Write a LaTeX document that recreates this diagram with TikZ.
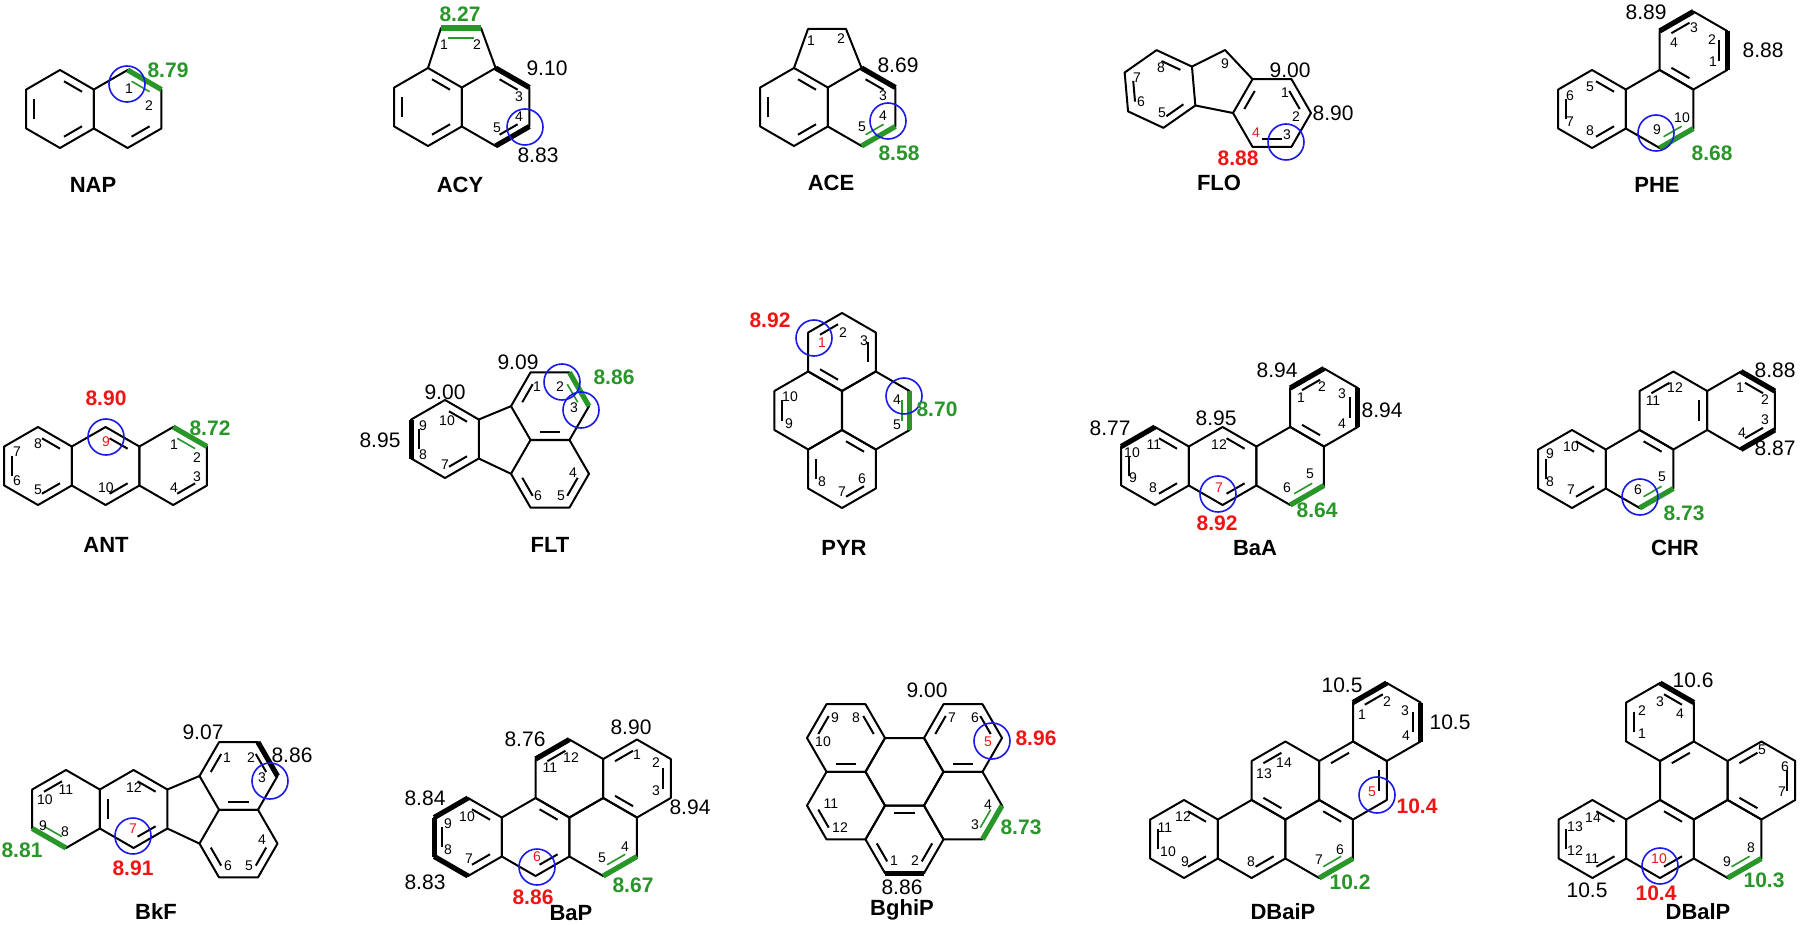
\documentclass[tikz,border=0pt]{standalone}
\usepackage{fontspec}
\setmainfont{Liberation Sans}
\usetikzlibrary{positioning}
\definecolor{grn}{RGB}{40,150,40}
\definecolor{rd}{RGB}{240,20,20}
\definecolor{blu}{RGB}{25,25,235}
\newcounter{lbl}
% ring: name, cx, cy, rotation (0 = pointy top, 30 = flat top)
\newcommand\hexring[4]{%
  \foreach \k in {0,...,5}{%
    \coordinate (#1-\k) at ({#2+39*cos(#4+30+60*\k)},{#3+39*sin(#4+30+60*\k)});
    \coordinate (#1-i\k) at ({#2+30*cos(#4+30+60*\k)},{#3+30*sin(#4+30+60*\k)});
  }
  \draw[bond] (#1-0) -- (#1-1) -- (#1-2) -- (#1-3) -- (#1-4) -- (#1-5) -- cycle;}
% inner line of a double bond
\newcommand\dbl[3][bond]{\pgfmathtruncatemacro\nk{mod(#3+1,6)}%
  \draw[#1,shorten <=2.3pt,shorten >=2.3pt] (#2-i#3) -- (#2-i\nk);}
% heavy outer bond
\newcommand\bnd[3][hbond]{\pgfmathtruncatemacro\nk{mod(#3+1,6)}%
  \draw[#1] (#2-#3) -- (#2-\nk);}
\newcommand\lbl[4]{\stepcounter{lbl}\node[#1] (t\arabic{lbl}) at (#2,#3) {#4};}
\newcommand\site[2]{\stepcounter{lbl}\node[site] (s\arabic{lbl}) at (#1,#2) {};}

\begin{document}
\begin{tikzpicture}[x=0.5pt,y=-0.5pt,
    bond/.style={line width=1pt,line join=round},
    hbond/.style={line width=2.6pt},
    gbond/.style={line width=2.6pt,draw=grn},
    gin/.style={line width=0.8pt,draw=grn},
    site/.style={draw=blu,line width=0.8pt,circle,minimum size=18pt,inner sep=0pt},
    num/.style={font=\fontsize{7}{8}\selectfont,inner sep=0pt},
    rnum/.style={num,text=rd},
    val/.style={font=\fontsize{10.5}{12}\selectfont,inner sep=0pt},
    gval/.style={font=\fontsize{10.5}{12}\selectfont\bfseries,text=grn,inner sep=0pt},
    rval/.style={font=\fontsize{10.5}{12}\selectfont\bfseries,text=rd,inner sep=0pt},
    mol/.style={font=\fontsize{11}{13}\selectfont\bfseries,inner sep=0pt}]
\useasboundingbox[fill=white] (0,0) rectangle (1800,925);

% NAP
\hexring{nA}{60}{109}{0}
\hexring{nB}{127.6}{109}{0}
\dbl{nA}{0} \dbl{nA}{2} \dbl{nA}{4} \dbl{nB}{0}
\bnd[gbond]{nB}{4} \dbl[gin]{nB}{4}
\site{127}{84}
\lbl{num}{129}{89}{1} \lbl{num}{149}{106}{2}
\lbl{gval}{168}{70}{8.79} \lbl{mol}{93}{185}{NAP}

% ACY
\hexring{yA}{428}{107}{0}
\hexring{yB}{495.6}{107}{0}
\dbl{yA}{0} \dbl{yA}{2} \dbl{yA}{4} \dbl{yB}{0} \dbl{yB}{4}
\bnd{yB}{4} \bnd{yB}{0}
\coordinate (y1) at (441,28);
\coordinate (y2) at (481,28);
\draw[bond] (yA-4) -- (y1) -- (y2) -- (yB-4);
\draw[gbond] (y1) -- (y2);
\draw[gin] (448,38) -- (474,38);
\site{525}{127}
\lbl{gval}{460}{14}{8.27} \lbl{num}{444}{45}{1} \lbl{num}{477}{45}{2}
\lbl{val}{547}{68}{9.10} \lbl{num}{519}{97}{3} \lbl{num}{519}{117}{4}
\lbl{num}{497}{128}{5} \lbl{val}{538}{155}{8.83} \lbl{mol}{460}{185}{ACY}

% ACE
\hexring{eA}{794}{107}{0}
\hexring{eB}{861.6}{107}{0}
\dbl{eA}{0} \dbl{eA}{2} \dbl{eA}{4} \dbl{eB}{4}
\bnd{eB}{4} \bnd[gbond]{eB}{0} \dbl[gin]{eB}{0}
\coordinate (e1) at (808,29);
\coordinate (e2) at (846,29);
\draw[bond] (eA-4) -- (e1) -- (e2) -- (eB-4);
\site{888}{121}
\lbl{num}{811}{41}{1} \lbl{num}{841}{39}{2} \lbl{val}{898}{65}{8.69}
\lbl{num}{883}{96}{3} \lbl{num}{883}{116}{4} \lbl{num}{862}{127}{5}
\lbl{gval}{899}{153}{8.58} \lbl{mol}{831}{183}{ACE}

% FLO
\hexring{fA}{1160}{89}{-5}
\hexring{fB}{1272}{113}{30}
\coordinate (f9) at (1225,50);
\draw[bond] (fA-5) -- (f9) -- (fB-3);
\draw[bond] (fA-0) -- (fB-2);
\dbl{fA}{0} \dbl{fA}{2} \dbl{fA}{4} \dbl{fB}{0} \dbl{fB}{2} \dbl{fB}{4}
\site{1286}{142}
\lbl{num}{1161}{68}{8} \lbl{num}{1137}{78}{7} \lbl{num}{1141}{102}{6}
\lbl{num}{1162}{113}{5} \lbl{num}{1225}{64}{9} \lbl{val}{1290}{70}{9.00}
\lbl{num}{1285}{93}{1} \lbl{num}{1296}{117}{2} \lbl{val}{1333}{113}{8.90}
\lbl{rnum}{1256}{133}{4} \lbl{num}{1287}{135}{3}
\lbl{rval}{1238}{158}{8.88} \lbl{mol}{1219}{183}{FLO}

% PHE
\hexring{pL}{1592}{109}{0}
\hexring{pM}{1659.6}{109}{0}
\hexring{pT}{1693.4}{50.5}{0}
\dbl{pL}{0} \dbl{pL}{2} \dbl{pL}{4} \dbl{pT}{1} \dbl{pT}{3} \dbl{pT}{5}
\bnd{pT}{3} \bnd{pT}{5} \bnd[gbond]{pM}{0} \dbl[gin]{pM}{0}
\site{1656}{133}
\lbl{val}{1646}{12}{8.89} \lbl{num}{1694}{28}{3} \lbl{num}{1674}{43}{4}
\lbl{num}{1712}{40}{2} \lbl{num}{1713}{62}{1} \lbl{val}{1763}{50}{8.88}
\lbl{num}{1590}{87}{5} \lbl{num}{1570}{96}{6} \lbl{num}{1570}{122}{7}
\lbl{num}{1590}{131}{8} \lbl{num}{1657}{130}{9} \lbl{num}{1682}{118}{10}
\lbl{gval}{1712}{153}{8.68} \lbl{mol}{1657}{185}{PHE}

% ANT
\hexring{aA}{38}{466}{0}
\hexring{aB}{105.6}{466}{0}
\hexring{aC}{173.2}{466}{0}
\dbl{aA}{0} \dbl{aA}{2} \dbl{aA}{4} \dbl{aB}{0} \dbl{aB}{4} \dbl{aC}{0}
\bnd[gbond]{aC}{4} \dbl[gin]{aC}{4}
\site{106}{437}
\lbl{rval}{106}{398}{8.90} \lbl{rnum}{106}{442}{9} \lbl{gval}{210}{428}{8.72}
\lbl{num}{174}{445}{1} \lbl{num}{197}{458}{2} \lbl{num}{197}{477}{3}
\lbl{num}{174}{488}{4} \lbl{num}{106}{488}{10} \lbl{num}{38}{444}{8}
\lbl{num}{17}{452}{7} \lbl{num}{17}{481}{6} \lbl{num}{38}{490}{5}
\lbl{mol}{106}{545}{ANT}

% FLT
\hexring{tA}{445}{439}{0}
\hexring{tU}{550}{406.2}{30}
\hexring{tD}{550}{473.8}{30}
\draw[bond] (tA-5) -- (tU-2);
\draw[bond] (tA-0) -- (tD-2);
\dbl{tA}{0} \dbl{tA}{2} \dbl{tA}{4} \bnd{tA}{2}
\dbl{tU}{0} \dbl{tU}{2} \bnd[gbond]{tU}{4} \dbl[gin]{tU}{4}
\dbl{tD}{1} \dbl{tD}{5}
\site{562}{382} \site{581}{410}
\lbl{val}{445}{392}{9.00} \lbl{val}{380}{440}{8.95} \lbl{num}{447}{421}{10}
\lbl{num}{423}{426}{9} \lbl{num}{423}{455}{8} \lbl{num}{445}{465}{7}
\lbl{val}{518}{362}{9.09} \lbl{num}{537}{387}{1} \lbl{num}{560}{387}{2}
\lbl{num}{574}{408}{3} \lbl{gval}{614}{377}{8.86} \lbl{num}{573}{473}{4}
\lbl{num}{561}{496}{5} \lbl{num}{538}{496}{6} \lbl{mol}{550}{545}{FLT}

% PYR
\hexring{rT}{842}{352}{0}
\hexring{rL}{808.2}{410.5}{0}
\hexring{rR}{875.8}{410.5}{0}
\hexring{rB}{842}{469}{0}
\dbl{rT}{1} \dbl{rT}{3} \dbl{rT}{5} \dbl{rL}{2}
\dbl{rB}{0} \dbl{rB}{2} \dbl{rB}{4}
\bnd[gbond]{rR}{5} \dbl[gin]{rR}{5}
\site{814}{338} \site{904}{396}
\lbl{rval}{770}{320}{8.92} \lbl{rnum}{822}{343}{1} \lbl{num}{843}{333}{2}
\lbl{num}{864}{341}{3} \lbl{num}{897}{400}{4} \lbl{num}{897}{425}{5}
\lbl{gval}{937}{409}{8.70} \lbl{num}{790}{397}{10} \lbl{num}{789}{424}{9}
\lbl{num}{822}{482}{8} \lbl{num}{842}{492}{7} \lbl{num}{862}{479}{6}
\lbl{mol}{844}{548}{PYR}

% BaA
\hexring{bA}{1155}{466}{0}
\hexring{bB}{1222.6}{466}{0}
\hexring{bC}{1290.2}{466}{0}
\hexring{bD}{1324}{407.5}{0}
\dbl{bA}{0} \dbl{bA}{2} \dbl{bA}{4} \bnd{bA}{3}
\dbl{bB}{0} \dbl{bB}{4}
\bnd[gbond]{bC}{0} \dbl[gin]{bC}{0}
\dbl{bD}{1} \dbl{bD}{3} \dbl{bD}{5} \bnd{bD}{3} \bnd{bD}{5}
\site{1218}{494}
\lbl{val}{1110}{428}{8.77} \lbl{num}{1132}{453}{10} \lbl{num}{1154}{445}{11}
\lbl{num}{1133}{478}{9} \lbl{num}{1153}{488}{8} \lbl{val}{1216}{418}{8.95}
\lbl{num}{1219}{445}{12} \lbl{rnum}{1219}{488}{7} \lbl{rval}{1217}{523}{8.92}
\lbl{val}{1277}{370}{8.94} \lbl{num}{1301}{398}{1} \lbl{num}{1322}{387}{2}
\lbl{num}{1342}{394}{3} \lbl{num}{1342}{424}{4} \lbl{val}{1382}{410}{8.94}
\lbl{num}{1310}{474}{5} \lbl{num}{1287}{488}{6} \lbl{gval}{1317}{510}{8.64}
\lbl{mol}{1255}{548}{BaA}

% CHR
\hexring{cA}{1572}{469}{0}
\hexring{cB}{1639.6}{469}{0}
\hexring{cC}{1673.4}{410.5}{0}
\hexring{cD}{1741}{410.5}{0}
\dbl{cA}{0} \dbl{cA}{2} \dbl{cA}{4} \dbl{cB}{4}
\bnd[gbond]{cB}{0} \dbl[gin]{cB}{0}
\dbl{cC}{3} \dbl{cC}{5} \dbl{cD}{0} \dbl{cD}{4} \bnd{cD}{4} \bnd{cD}{0}
\site{1640}{497}
\lbl{num}{1571}{447}{10} \lbl{num}{1550}{454}{9} \lbl{num}{1550}{482}{8}
\lbl{num}{1571}{490}{7} \lbl{num}{1638}{490}{6} \lbl{num}{1662}{477}{5}
\lbl{gval}{1684}{513}{8.73} \lbl{num}{1653}{401}{11} \lbl{num}{1675}{388}{12}
\lbl{num}{1740}{388}{1} \lbl{num}{1765}{400}{2} \lbl{num}{1765}{420}{3}
\lbl{num}{1742}{433}{4} \lbl{val}{1775}{370}{8.88} \lbl{val}{1775}{448}{8.87}
\lbl{mol}{1675}{548}{CHR}

% BkF
\hexring{kA}{66}{809}{0}
\hexring{kB}{133.6}{809}{0}
\hexring{kU}{238.5}{776}{30}
\hexring{kD}{238.5}{843.6}{30}
\draw[bond] (kB-5) -- (kU-2);
\draw[bond] (kB-0) -- (kD-2);
\dbl{kA}{3} \bnd[gbond]{kA}{1} \dbl[gin]{kA}{1}
\dbl{kB}{0} \dbl{kB}{2} \dbl{kB}{4}
\dbl{kU}{0} \dbl{kU}{2} \dbl{kU}{4} \bnd{kU}{4}
\dbl{kD}{1} \dbl{kD}{5}
\site{270}{781} \site{133}{836}
\lbl{val}{203}{732}{9.07} \lbl{num}{227}{758}{1} \lbl{num}{251}{758}{2}
\lbl{num}{262}{778}{3} \lbl{val}{292}{755}{8.86} \lbl{num}{262}{840}{4}
\lbl{num}{249}{866}{5} \lbl{num}{228}{866}{6} \lbl{num}{134}{788}{12}
\lbl{rnum}{133}{829}{7} \lbl{rval}{133}{868}{8.91} \lbl{num}{66}{790}{11}
\lbl{num}{45}{800}{10} \lbl{num}{43}{826}{9} \lbl{num}{65}{832}{8}
\lbl{gval}{22}{850}{8.81} \lbl{mol}{156}{912}{BkF}

% BaP
\hexring{qA}{468}{837}{0}
\hexring{qB}{535.6}{837}{0}
\hexring{qC}{569.4}{778.5}{0}
\hexring{qD}{603.2}{837}{0}
\hexring{qE}{637}{778.5}{0}
\dbl{qA}{0} \dbl{qA}{2} \dbl{qA}{4} \bnd{qA}{1} \bnd{qA}{2} \bnd{qA}{3}
\dbl{qB}{0} \dbl{qB}{4} \dbl{qC}{3} \bnd{qC}{3}
\dbl{qE}{1} \dbl{qE}{3} \dbl{qE}{5}
\bnd[gbond]{qD}{0} \dbl[gin]{qD}{0}
\site{537}{867}
\lbl{val}{525}{739}{8.76} \lbl{num}{550}{768}{11} \lbl{num}{571}{758}{12}
\lbl{val}{425}{798}{8.84} \lbl{num}{467}{817}{10} \lbl{num}{448}{824}{9}
\lbl{num}{448}{850}{8} \lbl{num}{469}{859}{7} \lbl{rnum}{537}{857}{6}
\lbl{rval}{533}{897}{8.86} \lbl{val}{425}{882}{8.83} \lbl{val}{631}{727}{8.90}
\lbl{num}{637}{755}{1} \lbl{num}{656}{763}{2} \lbl{num}{656}{791}{3}
\lbl{val}{690}{807}{8.94} \lbl{num}{625}{847}{4} \lbl{num}{602}{858}{5}
\lbl{gval}{633}{885}{8.67} \lbl{mol}{571}{913}{BaP}

% BghiP
\hexring{gTL}{846}{738}{30}
\hexring{gTR}{963}{738}{30}
\hexring{gC}{904.5}{771.8}{30}
\hexring{gLL}{846}{805.6}{30}
\hexring{gLR}{963}{805.6}{30}
\hexring{gB}{904.5}{839.4}{30}
\dbl{gTL}{0} \dbl{gTL}{2} \dbl{gTL}{4} \dbl{gTR}{0} \dbl{gTR}{2} \dbl{gTR}{4}
\dbl{gLL}{1} \dbl{gB}{1} \dbl{gB}{3} \dbl{gB}{5} \bnd{gB}{0}
\bnd[gbond]{gLR}{5} \dbl[gin]{gLR}{5}
\site{992}{741}
\lbl{val}{927}{690}{9.00} \lbl{num}{835}{718}{9} \lbl{num}{856}{718}{8}
\lbl{num}{952}{718}{7} \lbl{num}{975}{718}{6} \lbl{rnum}{988}{742}{5}
\lbl{rval}{1036}{738}{8.96} \lbl{num}{823}{742}{10} \lbl{num}{831}{804}{11}
\lbl{num}{840}{828}{12} \lbl{num}{988}{805}{4} \lbl{num}{975}{825}{3}
\lbl{gval}{1021}{827}{8.73} \lbl{num}{894}{861}{1} \lbl{num}{915}{861}{2}
\lbl{val}{902}{887}{8.86} \lbl{mol}{902}{910}{BghiP}

% DBaiP
\hexring{dL}{1184}{839}{0}
\hexring{d8}{1251.6}{839}{0}
\hexring{d7}{1319.2}{839}{0}
\hexring{d13}{1285.4}{780.5}{0}
\hexring{d2}{1353}{780.5}{0}
\hexring{dT}{1386.8}{722}{0}
\dbl{dL}{0} \dbl{dL}{2} \dbl{dL}{4} \dbl{d8}{0} \dbl{d13}{1} \dbl{d13}{3}
\dbl{d2}{3} \dbl{d2}{5} \dbl{d7}{4} \bnd[gbond]{d7}{0} \dbl[gin]{d7}{0}
\dbl{dT}{3} \dbl{dT}{5} \bnd{dT}{3} \bnd{dT}{5}
\site{1377}{795}
\lbl{val}{1342}{685}{10.5} \lbl{num}{1362}{715}{1} \lbl{num}{1387}{702}{2}
\lbl{num}{1405}{711}{3} \lbl{num}{1406}{736}{4} \lbl{val}{1450}{722}{10.5}
\lbl{num}{1284}{763}{14} \lbl{num}{1264}{774}{13} \lbl{rnum}{1372}{792}{5}
\lbl{rval}{1417}{806}{10.4} \lbl{num}{1183}{817}{12} \lbl{num}{1165}{828}{11}
\lbl{num}{1168}{852}{10} \lbl{num}{1185}{862}{9} \lbl{num}{1251}{862}{8}
\lbl{num}{1319}{860}{7} \lbl{num}{1340}{850}{6} \lbl{gval}{1350}{882}{10.2}
\lbl{mol}{1283}{912}{DBaiP}

% DBalP
\hexring{lT}{1660}{722}{0}
\hexring{lM1}{1693.8}{780.5}{0}
\hexring{lR}{1761.4}{780.5}{0}
\hexring{lM2}{1727.6}{839}{0}
\hexring{lC}{1660}{839}{0}
\hexring{lL}{1592.4}{839}{0}
\dbl{lT}{2} \dbl{lT}{4} \bnd{lT}{4} \dbl{lM1}{3}
\dbl{lC}{0} \dbl{lC}{4} \dbl{lR}{1} \dbl{lR}{3} \dbl{lR}{5}
\bnd[gbond]{lM2}{0} \dbl[gin]{lM2}{0}
\dbl{lL}{0} \dbl{lL}{2} \dbl{lL}{4}
\site{1660}{866}
\lbl{val}{1693}{680}{10.6} \lbl{num}{1660}{702}{3} \lbl{num}{1642}{711}{2}
\lbl{num}{1680}{714}{4} \lbl{num}{1642}{734}{1} \lbl{num}{1762}{750}{5}
\lbl{num}{1785}{767}{6} \lbl{num}{1782}{792}{7} \lbl{num}{1593}{818}{14}
\lbl{num}{1575}{827}{13} \lbl{num}{1575}{851}{12} \lbl{num}{1592}{859}{11}
\lbl{rnum}{1659}{859}{10} \lbl{val}{1587}{890}{10.5} \lbl{rval}{1656}{893}{10.4}
\lbl{num}{1727}{862}{9} \lbl{num}{1751}{848}{8} \lbl{gval}{1764}{880}{10.3}
\lbl{mol}{1698}{912}{DBalP}
\end{tikzpicture}
\end{document}
